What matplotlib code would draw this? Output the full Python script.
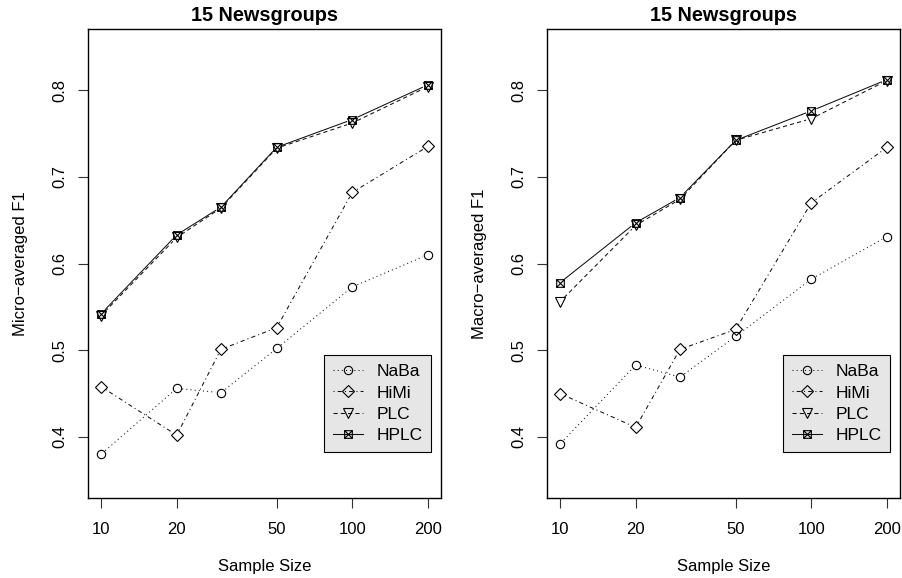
import numpy as np
import matplotlib
matplotlib.use("Agg")
import matplotlib.pyplot as plt
from matplotlib.path import Path
from matplotlib.lines import Line2D

plt.rcParams['font.family'] = ['Liberation Sans', 'DejaVu Sans']

sizes = [10, 20, 30, 50, 100, 200]
xticks = [10, 20, 50, 100, 200]
yticks = [0.4, 0.5, 0.6, 0.7, 0.8]

# Micro-averaged F1 (left panel)
micro_naba = [0.380, 0.456, 0.451, 0.502, 0.573, 0.610]
micro_himi = [0.458, 0.402, 0.501, 0.526, 0.682, 0.735]
micro_plc = [0.540, 0.630, 0.664, 0.733, 0.762, 0.804]
micro_hplc = [0.542, 0.633, 0.665, 0.734, 0.766, 0.806]

# Macro-averaged F1 (right panel)
macro_naba = [0.392, 0.483, 0.469, 0.516, 0.582, 0.631]
macro_himi = [0.450, 0.411, 0.501, 0.524, 0.670, 0.734]
macro_plc = [0.556, 0.644, 0.674, 0.742, 0.767, 0.811]
macro_hplc = [0.578, 0.647, 0.676, 0.742, 0.776, 0.812]

names = ["NaBa", "HiMi", "PLC", "HPLC"]

# square with a cross (like R pch=7)
boxx = Path([(-1, -1), (1, -1), (1, 1), (-1, 1), (-1, -1), (-1, -1), (1, 1), (-1, 1), (1, -1)],
            [Path.MOVETO, Path.LINETO, Path.LINETO, Path.LINETO, Path.CLOSEPOLY,
             Path.MOVETO, Path.LINETO, Path.MOVETO, Path.LINETO])

styles = [
    dict(marker='o', ms=6.0, ls=(0, (1, 3))),
    dict(marker='D', ms=6.0, ls=(0, (1, 3, 4, 3))),
    dict(marker='v', ms=7.0, ls=(0, (4, 3))),
    dict(marker=boxx, ms=5.5, ls='-'),
]

fig = plt.figure(figsize=(9.02, 5.78), dpi=100)
ax1 = fig.add_axes([88 / 902, 1 - 498 / 578, 353 / 902, 469 / 578])
ax2 = fig.add_axes([547 / 902, 1 - 498 / 578, 353 / 902, 469 / 578])

gap = 5.5  # pixels of gap around each point, like R type="b"
lw = 0.75


def gapped_line(ax, x, y, ls):
    pts = ax.transData.transform(np.column_stack([x, y]))
    inv = ax.transData.inverted()
    for p0, p1 in zip(pts[:-1], pts[1:]):
        d = p1 - p0
        L = np.hypot(*d)
        if L <= 2 * gap:
            continue
        u = d / L
        a = inv.transform(p0 + u * gap)
        b = inv.transform(p1 - u * gap)
        ax.plot([a[0], b[0]], [a[1], b[1]], color='#111111', lw=lw, ls=ls,
                solid_capstyle='butt', dash_capstyle='butt')


def panel(ax, series, ylabel):
    ax.set_xscale('log')
    ax.set_xlim(8.87, 225.5)
    ax.set_ylim(0.3296, 0.8704)
    ax.minorticks_off()
    for vals, st in zip(series, styles):
        gapped_line(ax, sizes, vals, st['ls'])
        ax.plot(sizes, vals, ls='none', marker=st['marker'], ms=st['ms'],
                mfc='none', mec='black', mew=0.8)
    ax.set_xticks(xticks)
    ax.set_xticklabels([str(v) for v in xticks], fontsize=12)
    ax.set_yticks(yticks)
    ax.set_yticklabels([str(v) for v in yticks], fontsize=12, rotation=90, va='center')
    ax.tick_params(axis='both', direction='out', length=7.2, width=0.8, color='#333333')
    ax.tick_params(axis='x', pad=10)
    ax.tick_params(axis='y', pad=8)
    for s in ax.spines.values():
        s.set_linewidth(1.0)
    ax.set_title("15 Newsgroups", fontsize=14.3, fontweight='bold', pad=6)
    ax.set_xlabel("Sample Size", fontsize=12, labelpad=16)
    ax.set_ylabel(ylabel, fontsize=12, labelpad=17)
    handles = [Line2D([], [], color='#111111', lw=lw, ls=st['ls'], marker=st['marker'],
                      ms=st['ms'], mfc='none', mec='black', mew=0.8) for st in styles]
    leg = ax.legend(handles, names, loc='lower right', bbox_to_anchor=(0.972, 0.098),
                    fontsize=12.5, fancybox=False, framealpha=1, facecolor='#e6e6e6',
                    edgecolor='black', handlelength=1.75, labelspacing=0.36,
                    borderpad=0.5, handletextpad=0.75, borderaxespad=0)
    leg.get_frame().set_linewidth(0.8)


panel(ax1, [micro_naba, micro_himi, micro_plc, micro_hplc], "Micro\u2212averaged F1")
panel(ax2, [macro_naba, macro_himi, macro_plc, macro_hplc], "Macro\u2212averaged F1")

fig.savefig("out.png", dpi=100)
